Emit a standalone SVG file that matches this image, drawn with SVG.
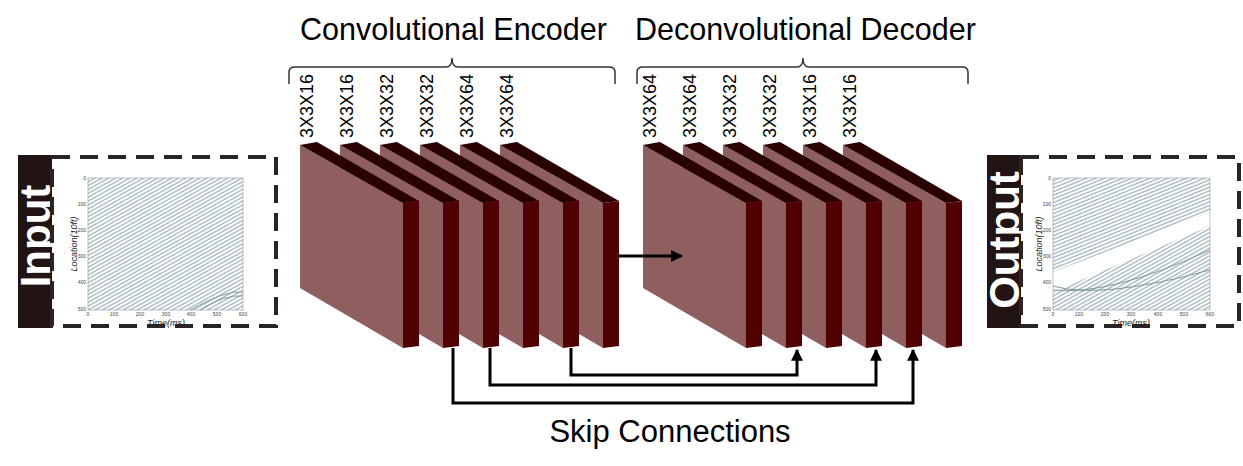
<svg xmlns="http://www.w3.org/2000/svg" width="1243" height="466" viewBox="0 0 1243 466">
<style>
.t{font-family:"Liberation Sans",Arial,sans-serif;fill:#000}
.lab{font-size:18px}
.ttl{font-size:30.5px}
.tk{font-family:"Liberation Sans",Arial,sans-serif;font-size:5px;fill:#444}
.ax{font-family:"Liberation Sans",Arial,sans-serif;font-size:9px;font-style:italic;fill:#222}
.side{font-family:"Liberation Sans",Arial,sans-serif;font-size:42px;font-weight:bold;fill:#fff}
.front{fill:#8f5e5e}.top{fill:#2a0000}.right{fill:#500000}
.con{fill:none;stroke:#000;stroke-width:3}
.dash{fill:none;stroke:#2a2424;stroke-width:4;stroke-dasharray:18,10}
.brace{fill:none;stroke:#333;stroke-width:1.5}
</style>
<defs>
<g id="blk">
<polygon class="front" points="300,145 403,203 403,348 300,288"/>
<polygon class="top" points="300,145 317,142 419,201 403,203"/>
<polygon class="right" points="403,203 419,201 419,346 403,348"/>
</g>
<pattern id="ln" width="8" height="3.4" patternUnits="userSpaceOnUse" patternTransform="rotate(-29)">
<rect x="0" y="0.5" width="8" height="1.1" fill="#90a8b0"/>
</pattern>
<pattern id="ln2" width="8" height="3.4" patternUnits="userSpaceOnUse" patternTransform="rotate(-22)">
<rect x="0" y="0.5" width="8" height="1.1" fill="#90a8b0"/>
</pattern>
<clipPath id="oc"><polygon points="1053,178 1210,178 1210,212 1053,272"/></clipPath>
<clipPath id="oc2"><polygon points="1053,292 1210,226 1210,310 1053,310"/></clipPath>
<marker id="ah" viewBox="0 0 10 10" refX="9" refY="5" markerWidth="4" markerHeight="4" orient="auto"><path d="M0,0L10,5L0,10z" fill="#000"/></marker>
</defs>

<text class="t ttl" x="300" y="40">Convolutional Encoder</text>
<text class="t ttl" x="635" y="40">Deconvolutional Decoder</text>
<path class="brace" d="M289,84 V72 Q289,67 295,67 H446 Q452,67 452,58 Q452,67 458,67 H609 Q615,67 615,72 V84"/>
<path class="brace" d="M637,84 V72 Q637,67 643,67 H797 Q803,67 803,58 Q803,67 809,67 H962 Q968,67 968,72 V84"/>

<g id="input">
<rect x="18" y="155" width="34" height="173" fill="#231414"/>
<text class="side" transform="translate(50,236) rotate(-90)" text-anchor="middle">Input</text>
<rect class="dash" x="52" y="157" width="224" height="169"/>
<rect x="88" y="178" width="155" height="132" fill="url(#ln)"/>
<path d="M200,310 Q225,294 243,296 M190,310 Q225,290 243,292" stroke="#7f98a0" fill="none" stroke-width="1"/>
<rect x="88" y="178" width="155" height="132" fill="none" stroke="#999" stroke-width="0.6"/>
<g class="tk" text-anchor="end"><text x="86" y="180">0</text><text x="86" y="206">100</text><text x="86" y="232">200</text><text x="86" y="258">300</text><text x="86" y="284">400</text><text x="86" y="311">500</text></g>
<g class="tk" text-anchor="middle"><text x="88" y="316">0</text><text x="114" y="316">100</text><text x="140" y="316">200</text><text x="166" y="316">300</text><text x="191" y="316">400</text><text x="217" y="316">500</text><text x="243" y="316">600</text></g>
<text class="ax" transform="translate(77,244) rotate(-90)" text-anchor="middle">Location(10ft)</text>
<text class="ax" x="166" y="326" text-anchor="middle">Time(ms)</text>
</g>

<g id="output">
<rect x="987" y="155" width="34" height="173" fill="#231414"/>
<text class="side" transform="translate(1019,240) rotate(-90)" text-anchor="middle">Output</text>
<rect class="dash" x="1021" y="157" width="218" height="169"/>
<rect x="1053" y="178" width="157" height="132" fill="url(#ln2)" clip-path="url(#oc)"/>
<rect x="1053" y="178" width="157" height="132" fill="url(#ln)" clip-path="url(#oc2)"/>
<path d="M1053,286 Q1100,300 1210,270 M1053,290 Q1110,296 1210,250" stroke="#7f98a0" fill="none" stroke-width="1"/>
<rect x="1053" y="178" width="157" height="132" fill="none" stroke="#999" stroke-width="0.6"/>
<g class="tk" text-anchor="end"><text x="1051" y="180">0</text><text x="1051" y="206">100</text><text x="1051" y="232">200</text><text x="1051" y="258">300</text><text x="1051" y="284">400</text><text x="1051" y="311">500</text></g>
<g class="tk" text-anchor="middle"><text x="1053" y="316">0</text><text x="1079" y="316">100</text><text x="1105" y="316">200</text><text x="1131" y="316">300</text><text x="1158" y="316">400</text><text x="1184" y="316">500</text><text x="1210" y="316">600</text></g>
<text class="ax" transform="translate(1042,244) rotate(-90)" text-anchor="middle">Location(10ft)</text>
<text class="ax" x="1131" y="326" text-anchor="middle">Time(ms)</text>
</g>

<g id="encoder">
<use href="#blk" x="200"/><use href="#blk" x="160"/><use href="#blk" x="120"/><use href="#blk" x="80"/><use href="#blk" x="40"/><use href="#blk" x="0"/>
</g>
<g id="decoder">
<use href="#blk" x="543"/><use href="#blk" x="503"/><use href="#blk" x="463"/><use href="#blk" x="423"/><use href="#blk" x="383"/><use href="#blk" x="343"/>
</g>

<g class="t lab">
<text transform="translate(313,138) rotate(-90)">3X3X16</text>
<text transform="translate(353,138) rotate(-90)">3X3X16</text>
<text transform="translate(393,138) rotate(-90)">3X3X32</text>
<text transform="translate(433,138) rotate(-90)">3X3X32</text>
<text transform="translate(473,138) rotate(-90)">3X3X64</text>
<text transform="translate(513,138) rotate(-90)">3X3X64</text>
<text transform="translate(656,138) rotate(-90)">3X3X64</text>
<text transform="translate(696,138) rotate(-90)">3X3X64</text>
<text transform="translate(736,138) rotate(-90)">3X3X32</text>
<text transform="translate(776,138) rotate(-90)">3X3X32</text>
<text transform="translate(816,138) rotate(-90)">3X3X16</text>
<text transform="translate(856,138) rotate(-90)">3X3X16</text>
</g>

<g id="connectors">
<line class="con" x1="619" y1="256" x2="682" y2="256" marker-end="url(#ah)"/>
<polyline class="con" points="453,348 453,403 913,403 913,350" marker-end="url(#ah)"/>
<polyline class="con" points="490,348 490,385 876,385 876,350" marker-end="url(#ah)"/>
<polyline class="con" points="571,348 571,375 797,375 797,350" marker-end="url(#ah)"/>
</g>
<text class="t" x="670" y="442" font-size="31" text-anchor="middle">Skip Connections</text>
</svg>
